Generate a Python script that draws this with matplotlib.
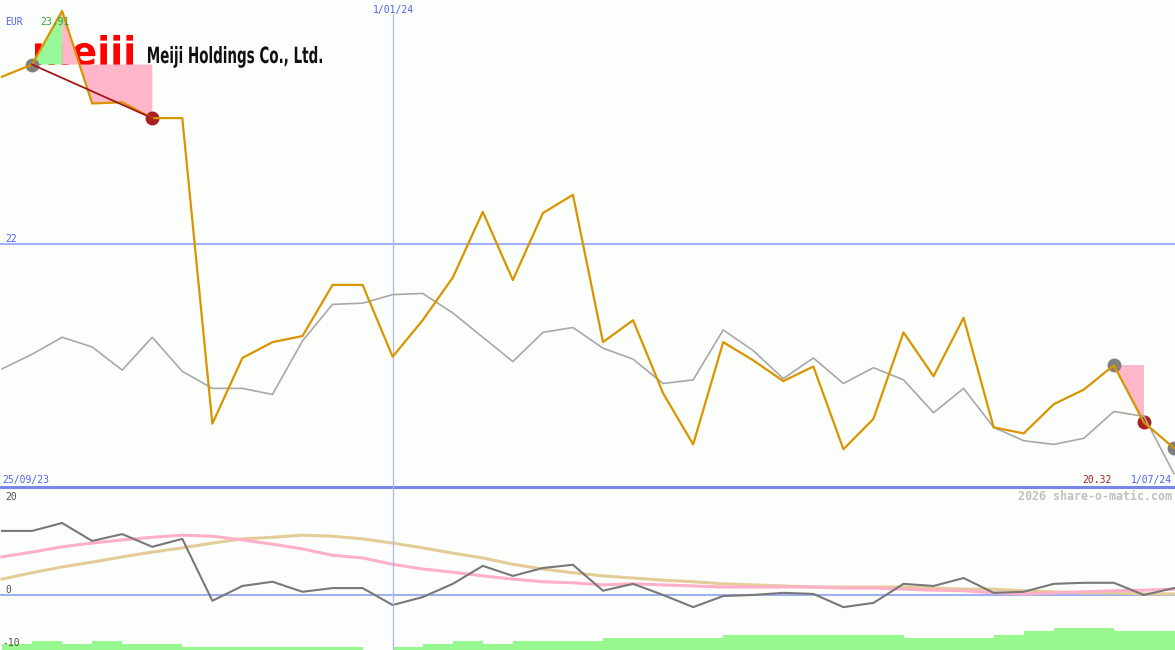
"""Weekly share price chart for Meiji Holdings with a momentum panel below."""
import matplotlib

matplotlib.use("Agg")
import matplotlib.pyplot as plt
import pandas as pd
from matplotlib.font_manager import FontProperties
from matplotlib.patches import PathPatch
from matplotlib.textpath import TextPath
from matplotlib.transforms import Affine2D, IdentityTransform

# Data (weekly closes)
dates = pd.date_range("2023-10-02", periods=40, freq="7D")
price = [23.37, 23.47, 23.91, 23.15, 23.16, 23.03, 23.03, 20.52, 21.06, 21.19,
         21.24, 21.66, 21.66, 21.07, 21.37, 21.72, 22.26, 21.70, 22.25, 22.40,
         21.19, 21.37, 20.77, 20.35, 21.19, 21.04, 20.87, 20.99, 20.31, 20.56,
         21.27, 20.91, 21.39, 20.49, 20.44, 20.68, 20.80, 21.00, 20.53, 20.32]
index_line = [20.97, 21.09, 21.23, 21.15, 20.96, 21.23, 20.95, 20.81, 20.81, 20.76,
              21.20, 21.50, 21.51, 21.58, 21.59, 21.43, 21.23, 21.03, 21.27, 21.31,
              21.14, 21.05, 20.85, 20.88, 21.29, 21.12, 20.89, 21.06, 20.85, 20.98,
              20.88, 20.61, 20.81, 20.49, 20.38, 20.35, 20.40, 20.62, 20.58, 20.11]
momentum = [12.1, 12.1, 13.6, 10.2, 11.5, 9.1, 10.6, -1.1, 1.7, 2.5,
            0.6, 1.3, 1.3, -1.9, -0.4, 2.1, 5.5, 3.6, 5.1, 5.7,
            0.8, 2.1, 0.0, -2.3, -0.2, 0.0, 0.4, 0.2, -2.3, -1.5,
            2.1, 1.7, 3.2, 0.4, 0.6, 2.1, 2.3, 2.3, 0.0, 1.3]
avg_fast = [7.2, 8.1, 9.1, 9.8, 10.4, 10.9, 11.3, 11.1, 10.4, 9.6,
            8.7, 7.5, 7.0, 5.8, 4.9, 4.3, 3.6, 3.0, 2.5, 2.3,
            1.9, 2.1, 1.9, 1.7, 1.5, 1.5, 1.5, 1.5, 1.3, 1.3,
            1.1, 0.9, 0.8, 0.4, 0.2, 0.4, 0.6, 0.8, 0.9, 1.1]
avg_slow = [3.0, 4.2, 5.3, 6.2, 7.2, 8.1, 8.9, 9.8, 10.6, 10.9,
            11.3, 11.1, 10.6, 9.8, 8.9, 7.9, 7.0, 5.8, 4.9, 4.2,
            3.6, 3.2, 2.8, 2.5, 2.1, 1.9, 1.7, 1.5, 1.5, 1.5,
            1.5, 1.3, 1.1, 1.1, 0.8, 0.6, 0.4, 0.4, 0.2, 0.2]
volume = [2, 3, 2, 3, 2, 2, 1, 1, 1, 1,
          1, 1, 0, 1, 2, 3, 2, 3, 3, 3,
          4, 4, 4, 4, 5, 5, 5, 5, 5, 5,
          4, 4, 4, 5, 6, 7, 7, 6, 6, 6]

# Annotated swings: (start, peak, end) and the final drop
rise_start, rise_peak, fall_end = 1, 2, 5
last_top, last_drop = 37, 38

currency = "EUR"
company = "Meiji Holdings Co., Ltd."
start_label = "25/09/23"
mid_date = pd.Timestamp("2024-01-01")
end_label = "1/07/24"
price_ticks = [22]
lower_ticks = [20, 0, -10]

# Colours
BG = "#fcfefc"
BLUE_TEXT = "#5060f0"
GRID_BLUE = "#a0b0f0"
ORANGE = "#d99500"
GREY = "#a8a8a8"
DARK_RED = "#a82020"
PINK = "#ffb6c8"
GREEN = "#98f898"

W, H = 1175, 650
MONO = "DejaVu Sans Mono"


def px_text(fig, x, baseline, s, color, ha="left", size=7, weight="normal"):
    """Place text using pixel coordinates (origin top-left)."""
    fig.text(x / W, 1 - baseline / H, s, color=color, ha=ha, va="baseline",
             family=MONO, fontsize=size, fontweight=weight)


def fitted_text(ax, s, left, baseline, width, top, color):
    """Draw s as a bold path squeezed into a pixel box."""
    path = TextPath((0, 0), s, size=50, prop=FontProperties(family="DejaVu Sans", weight="bold"))
    ext = path.get_extents()
    sx = width / ext.width
    sy = (baseline - top) / ext.y1
    tr = Affine2D().translate(-ext.x0, 0).scale(sx, sy).translate(left, H - baseline)
    ax.add_patch(PathPatch(tr.transform_path(path), facecolor=color, lw=0,
                           transform=IdentityTransform(), zorder=0.5))


x = list(range(len(dates)))
jan_idx = list(dates).index(mid_date)
xlim = (-2 / 30.05, 1173 / 30.05)

fig = plt.figure(figsize=(W / 100, H / 100), dpi=100, facecolor=BG)
ax = fig.add_axes([0, 163 / H, 1, 487 / H])
ax2 = fig.add_axes([0, 0, 1, 163 / H])
for a in (ax, ax2):
    a.set_axis_off()
    a.set_xlim(*xlim)

# Main price panel
ax.set_ylim(20, 24)
for t in price_ticks:
    ax.axhline(t, color=GRID_BLUE, lw=1.5, zorder=0.8)
ax.axhline(20, color="#7888e8", lw=2.2, clip_on=False, zorder=0.8)
ax.axvline(jan_idx, ymax=1 - 14 / 487, color="#a8b8f8", lw=0.9, zorder=0.8)

fitted_text(ax, "meiji", 35, 65, 98, 35, "#ff0000")
fitted_text(ax, company, 148, 63, 174, 46, "#101010")

# Rise to the peak (green) and fall from it (pink)
p = price
ax.fill([rise_start, rise_peak, rise_peak], [p[rise_start], p[rise_peak], p[rise_start]],
        color=GREEN, lw=0, zorder=1)
fall_x = [rise_peak, rise_peak, fall_end] + list(range(fall_end, rise_peak, -1))
fall_y = [p[rise_peak], p[rise_start], p[rise_start]] + [p[i] for i in range(fall_end, rise_peak, -1)]
ax.fill(fall_x, fall_y, color=PINK, lw=0, zorder=1)
ax.fill([last_top, last_drop, last_drop], [p[last_top], p[last_top], p[last_drop]],
        color=PINK, lw=0, zorder=1)

ax.plot([rise_start, last_top, x[-1]], [p[rise_start], p[last_top], p[-1]], "o",
        color="#808080", ms=9, zorder=2)
ax.plot([fall_end, last_drop], [p[fall_end], p[last_drop]], "o",
        color=DARK_RED, ms=9, zorder=2)
ax.plot(x, index_line, color=GREY, lw=1.2, zorder=2.5)
ax.plot(x, price, color=ORANGE, lw=1.6, zorder=3)
ax.plot([rise_start, fall_end], [p[rise_start], p[fall_end]], color="#a01818", lw=1.3, zorder=3.5)

# Lower momentum panel
ax2.set_ylim(-10.4, 20.4)
ax2.axhline(0, color=GRID_BLUE, lw=1.5, zorder=0.8)
ax2.plot(x, avg_slow, color="#e4cc98", lw=2.2, zorder=2)
ax2.plot(x, avg_fast, color="#ffb0c8", lw=2.2, zorder=2)
ax2.plot(x, momentum, color="#787878", lw=1.5, zorder=3)

axv = ax2.twinx()
axv.set_axis_off()
axv.set_xlim(*xlim)
axv.set_ylim(0, 163 / 3.1)
axv.bar(x, volume, width=1, align="edge", color="#98f890", lw=0)
axv.axvline(jan_idx, color="#a8b8f8", lw=0.9)

# Labels
px_text(fig, 5, 25, currency, BLUE_TEXT)
px_text(fig, 40, 25, f"{max(price):.2f}", "#30a030")
px_text(fig, 373, 13, f"{mid_date.day}/{mid_date:%m/%y}", BLUE_TEXT)
for t in price_ticks:
    px_text(fig, 5, 243 - (t - 22) * 121.5 - 1, f"{t}", BLUE_TEXT)
px_text(fig, 2, 483, start_label, BLUE_TEXT)
px_text(fig, 1112, 483, f"{price[-1]:.2f}", DARK_RED, ha="right")
px_text(fig, 1172, 483, end_label, BLUE_TEXT, ha="right")
px_text(fig, 1172, 500, "2026 share-o-matic.com", "#c0c0c0", ha="right", size=8.4, weight="bold")
for t, base in zip(lower_ticks, [500, 593, 646]):
    px_text(fig, 2 if t < 0 else 5, base, f"{t}", "#505050")

fig.savefig("out.png", dpi=100, facecolor=BG)
